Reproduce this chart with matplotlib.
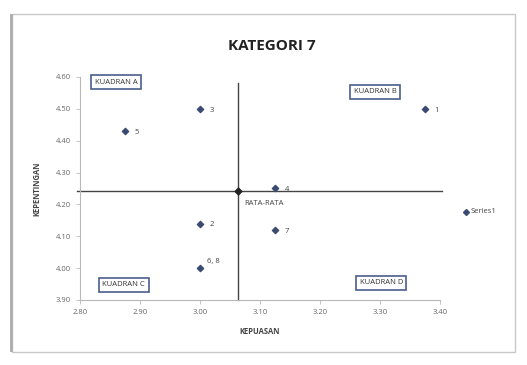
import matplotlib
matplotlib.use("Agg")
import matplotlib.pyplot as plt
from matplotlib.patches import Rectangle
import numpy as np

plt.rcParams['font.family'] = ['Open Sans', 'DejaVu Sans']

title = "KATEGORI 7"
x_label = "KEPUASAN"
y_label = "KEPENTINGAN"
point_labels = ["1", "2", "3", "4", "5", "6, 8", "7"]
kepuasan = [3.375, 3.00, 3.00, 3.125, 2.875, 3.00, 3.125]
kepentingan = [4.50, 4.14, 4.50, 4.25, 4.43, 4.00, 4.12]
# all 8 items (6 and 8 coincide)
all_x = [3.375, 3.00, 3.00, 3.125, 2.875, 3.00, 3.125, 3.00]
all_y = [4.50, 4.14, 4.50, 4.25, 4.43, 4.00, 4.12, 4.00]
mean_label = "RATA-RATA"
quadrants = ["KUADRAN A", "KUADRAN B", "KUADRAN C", "KUADRAN D"]
quad_x = [2.86, 3.292, 2.873, 3.302]
quad_y = [4.584, 4.553, 3.948, 3.954]
x_ticks = [2.80, 2.90, 3.00, 3.10, 3.20, 3.30, 3.40]
y_ticks = [3.90, 4.00, 4.10, 4.20, 4.30, 4.40, 4.50, 4.60]
legend_label = "Series1"

mx = float(np.mean(all_x))
my = float(np.mean(all_y))

fig = plt.figure(figsize=(5.27, 3.65), dpi=100)
fig.patch.set_facecolor('white')
# outer frame
fig.patches.append(Rectangle((12/527, 1-352/365), (515-12)/527, (352-14)/365,
                             transform=fig.transFigure, fill=False,
                             edgecolor='#c8c8c8', linewidth=1.0))
fig.patches.append(Rectangle((10/527, 1-352/365), 3/527, (352-14)/365,
                             transform=fig.transFigure, color='#b0b0b0', linewidth=0))

ax = fig.add_axes([80/527, 1-300/365, 360/527, 223/365])
ax.set_xlim(2.80, 3.40)
ax.set_ylim(3.90, 4.60)

for s in ['top', 'right']:
    ax.spines[s].set_visible(False)
for s in ['left', 'bottom']:
    ax.spines[s].set_color('#b8b8b8')
    ax.spines[s].set_linewidth(0.8)

ax.set_xticks(x_ticks)
ax.set_yticks(y_ticks)
ax.set_xticklabels([f"{v:.2f}" for v in x_ticks])
ax.set_yticklabels([f"{v:.2f}" for v in y_ticks])
ax.tick_params(axis='both', labelsize=5.5, colors='#b8b8b8', labelcolor='#666666',
               length=3, width=0.6, direction='out')

# mean lines
ax.plot([2.795, 3.403], [my, my], color='#444444', linewidth=1.0, clip_on=False, zorder=2)
ax.plot([mx, mx], [3.90, 4.58], color='#444444', linewidth=1.0, clip_on=False, zorder=2)

ax.scatter(kepuasan, kepentingan, marker='D', s=10, color='#3a4a70', zorder=3)
ax.scatter([mx], [my], marker='D', s=12, color='#222222', zorder=4)

offsets = {"6, 8": (5, 5)}
for lab, x, y in zip(point_labels, kepuasan, kepentingan):
    dx, dy = offsets.get(lab, (7, -1))
    ax.annotate(lab, (x, y), xytext=(dx, dy), textcoords='offset points',
                fontsize=5.5, color='#444444', va='center', ha='left')
ax.annotate(mean_label, (mx, my), xytext=(5, -9), textcoords='offset points',
            fontsize=5.5, color='#444444', va='center', ha='left')

for q, x, y in zip(quadrants, quad_x, quad_y):
    ax.text(x, y, q, fontsize=5.5, color='#333333', ha='center', va='center', zorder=5,
            bbox=dict(boxstyle='square,pad=0.45', facecolor='white',
                      edgecolor='#4a5e8c', linewidth=1.2))

ax.set_xlabel(x_label, fontsize=5.5, fontweight='bold', color='#444444', labelpad=8)
ax.set_ylabel(y_label, fontsize=5.5, fontweight='bold', color='#444444', labelpad=10)

fig.text(0.5 + 8/527, 1-46/365, title, fontsize=11, fontweight='bold',
         ha='center', va='center', color='#222222')

# legend
fig.lines.append(plt.Line2D([466/527], [1-212/365], marker='D', markersize=3,
                            color='#3a4a70', transform=fig.transFigure, linestyle='none'))
fig.text(471/527, 1-212/365, legend_label, fontsize=5.5, color='#444444',
         ha='left', va='center')

fig.savefig("out.png", dpi=100)
